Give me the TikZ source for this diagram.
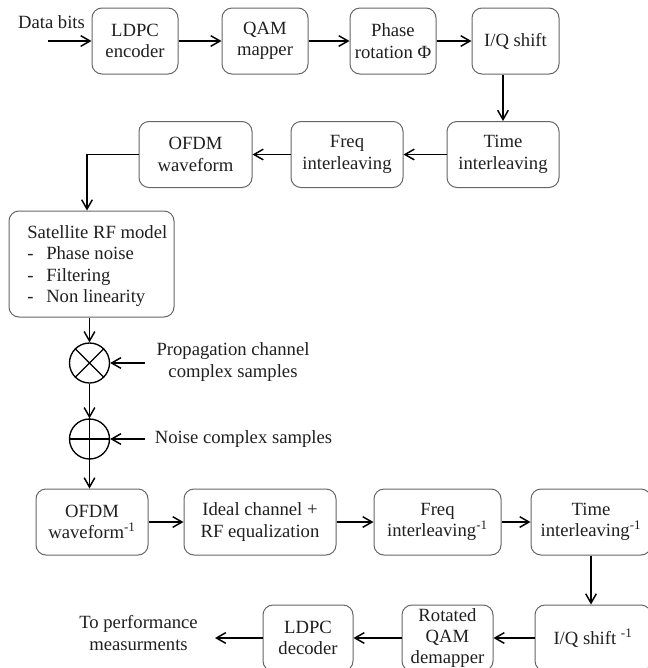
\documentclass[tikz,border=0pt]{standalone}
\usepackage{fontspec}
\setmainfont{Liberation Serif}
\usetikzlibrary{arrows.meta}
\begin{document}
\begin{tikzpicture}[x=0.75pt,y=-0.75pt,
  font=\fontsize{14}{16.1}\selectfont,
  every node/.style={text=black!88},
  blk/.style={draw=black!60, line width=0.75pt, rounded corners=7.5pt, minimum height=49.5pt, inner sep=0pt, align=center},
  arr/.style={draw=black, line width=1.1pt, -{Straight Barb[length=7pt,width=8pt]}},
  op/.style={circle, draw=black, line width=1pt, minimum size=30pt, inner sep=0pt},
  sym/.style={draw=black, line width=1pt}]
\useasboundingbox (0,0) rectangle (648,668);
\clip (0,0) rectangle (648,668);

% row 1
\node[blk, minimum width=64.5pt] (enc) at (135,41) {LDPC\\encoder};
\node[blk, minimum width=64.5pt] (map) at (265,41) {QAM\\mapper};
\node[blk, minimum width=64.5pt] (rot) at (393,41) {Phase\\rotation Φ};
\node[blk, minimum width=65.25pt] (iq) at (515.5,41) {I/Q shift};
\node (dbits) at (51.5,22) {Data bits};
\coordinate (inp) at (48,41);

% row 2
\node[blk, minimum width=84pt] (ti) at (503,154.5) {Time\\interleaving};
\node[blk, minimum width=84pt] (fi) at (347,154.5) {Freq\\interleaving};
\node[blk, minimum width=84.75pt] (ofdm) at (195.5,154.5) {OFDM\\waveform};
\coordinate (bend) at (87,154.5);

% satellite
\node[blk, minimum width=123.75pt, minimum height=79.5pt] (sat) at (91.5,264) {};
\node[anchor=west, align=left, inner sep=0pt] (satT) at (27,266)
  {Satellite RF model\\ \makebox[14.25pt][l]{-}Phase noise\\ \makebox[14.25pt][l]{-}Filtering\\ \makebox[14.25pt][l]{-}Non linearity};

% operators
\node[op] (mul) at (89.5,363) {};
\draw[sym] (mul.north east) -- (mul.south west) (mul.north west) -- (mul.south east);
\node[op] (add) at (89.5,439) {};
\draw[sym] (add.north) -- (add.south) (add.west) -- (add.east);
\node[align=center] (prop) at (233,362) {Propagation channel\\complex samples};
\node (noise) at (243.5,439) {Noise complex samples};
\coordinate (pin) at (145,363);
\coordinate (nin) at (145,439);

% row 3
\node[blk, minimum width=84pt] (ofdmi) at (92,522) {OFDM\\waveform\textsuperscript{-1}};
\node[blk, minimum width=114pt] (eq) at (260,522) {Ideal channel +\\RF equalization};
\node[blk, minimum width=95.25pt] (fii) at (437.5,522) {Freq\\interleaving\textsuperscript{-1}};
\node[blk, minimum width=90pt] (tii) at (591,522) {Time\\interleaving\textsuperscript{-1}};

% row 4
\node[blk, minimum width=87pt] (iqi) at (593,638) {I/Q shift \textsuperscript{-1}};
\node[blk, minimum width=68.25pt] (dem) at (447.5,638) {Rotated\\QAM\\demapper};
\node[blk, minimum width=67.5pt] (dec) at (308,638) {LDPC\\decoder};
\node[align=center] (perf) at (138.5,633) {To performance\\measurments};
\coordinate (outp) at (215,638);

% connectors
\draw[arr] (inp) -- (enc.west);
\draw[arr] (enc.east) -- (map.west);
\draw[arr] (map.east) -- (rot.west);
\draw[arr] (rot.east) -- (iq.west);
\draw[arr] (iq.south -| ti.north) -- (ti.north);
\draw[arr] (ti.west) -- (fi.east);
\draw[arr] (fi.west) -- (ofdm.east);
\draw[arr] (ofdm.west) -- (bend) -- (bend |- sat.north);
\draw[arr] (sat.south -| mul.north) -- (mul.north);
\draw[arr] (pin) -- (mul.east);
\draw[arr] (mul.south) -- (add.north);
\draw[arr] (nin) -- (add.east);
\draw[arr] (add.south) -- (add.south |- ofdmi.north);
\draw[arr] (ofdmi.east) -- (eq.west);
\draw[arr] (eq.east) -- (fii.west);
\draw[arr] (fii.east) -- (tii.west);
\draw[arr] (tii.south) -- (tii.south |- iqi.north);
\draw[arr] (iqi.west) -- (dem.east);
\draw[arr] (dem.west) -- (dec.east);
\draw[arr] (dec.west) -- (outp);
\end{tikzpicture}
\end{document}
